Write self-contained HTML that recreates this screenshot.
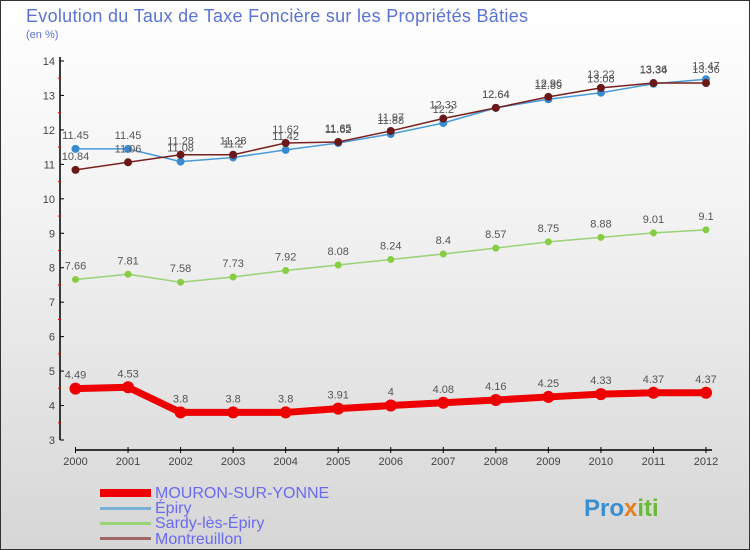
<!DOCTYPE html>
<html><head><meta charset="utf-8"><style>
html,body{margin:0;padding:0}
body{width:750px;height:550px;overflow:hidden;font-family:"Liberation Sans",sans-serif}
#wrap{position:absolute;left:0;top:0;width:748px;height:548px;border:1px solid #333;background:linear-gradient(#ffffff,#f2f2f2 40%,#d6d6d6)}
</style></head><body>
<div id="wrap">
<svg id="chart" width="750" height="550" viewBox="0 0 750 550" style="position:absolute;left:-1px;top:-1px">
<text x="26" y="22" font-size="18" fill="#5a73d6" textLength="502">Evolution du Taux de Taxe Foncière sur les Propriétés Bâties</text>
<text x="26" y="38" font-size="11" fill="#5a73d6">(en %)</text>
<g id="axes"></g><g id="series"></g>
<g>
<rect x="100" y="489" width="51" height="8" fill="#e00"/>
<text x="155" y="498" font-size="16" fill="#6a6aee">MOURON-SUR-YONNE</text>
<rect x="100" y="507" width="51" height="3" fill="#7ab0d8"/>
<text x="155" y="513" font-size="16" fill="#6a6aee">Épiry</text>
<rect x="100" y="522" width="51" height="3" fill="#99d277"/>
<text x="155" y="528" font-size="16" fill="#6a6aee">Sardy-lès-Épiry</text>
<rect x="100" y="537" width="51" height="3" fill="#a06868"/>
<text x="155" y="544" font-size="16" fill="#6a6aee">Montreuillon</text>
</g>
<text x="584" y="516" font-size="24" font-weight="bold"><tspan fill="#3a8fd0">Pro</tspan><tspan fill="#e08020">x</tspan><tspan fill="#6aba3a">iti</tspan></text>
</svg>
</div>
<script>
const years=["2000","2001","2002","2003","2004","2005","2006","2007","2008","2009","2010","2011","2012"];
const yTicks=[3,4,5,6,7,8,9,10,11,12,13,14];
const mouron=[4.49,4.53,3.8,3.8,3.8,3.91,4,4.08,4.16,4.25,4.33,4.37,4.37];
const epiry=[11.45,11.45,11.08,11.2,11.42,11.62,11.88,12.2,12.64,12.89,13.08,13.34,13.47];
const sardy=[7.66,7.81,7.58,7.73,7.92,8.08,8.24,8.4,8.57,8.75,8.88,9.01,9.1];
const montreuillon=[10.84,11.06,11.28,11.28,11.62,11.65,11.97,12.33,12.64,12.96,13.22,13.36,13.36];
const NS="http://www.w3.org/2000/svg";
function X(i){return 75.5+i*(706-75.5)/(years.length-1);}
function Y(v){return 440-(v-3)*(440-61)/11;}
function mk(p,tag,a){const e=document.createElementNS(NS,tag);for(const k in a)e.setAttribute(k,a[k]);p.appendChild(e);return e;}
const ax=document.getElementById('axes');
let l=mk(ax,'line',{x1:60,y1:57,x2:60,y2:440,stroke:'#000','stroke-width':1.5});


l=mk(ax,'line',{x1:75,y1:450,x2:712,y2:450,stroke:'#000','stroke-width':1.5});


yTicks.forEach(v=>{
  mk(ax,'line',{x1:60,y1:Y(v),x2:64,y2:Y(v),stroke:'#000'});
  if(v<14) mk(ax,'line',{x1:58,y1:Y(v+0.5),x2:61,y2:Y(v+0.5),stroke:'#e00'});
  const t=mk(ax,'text',{x:55,y:Y(v)+4,'font-size':11,fill:'#444','text-anchor':'end'});t.textContent=v;
  
  
});
years.forEach((y,i)=>{
  mk(ax,'line',{x1:X(i),y1:447,x2:X(i),y2:453,stroke:'#000'});
  const t=mk(ax,'text',{x:X(i),y:465,'font-size':11,fill:'#444','text-anchor':'middle'});t.textContent=y;
  
  
});
const sg=document.getElementById('series');
function draw(vals,name,color,w,r,dot,labelDy){
  const g=mk(sg,'g',{});
  
  
  mk(g,'polyline',{points:vals.map((v,i)=>X(i)+','+Y(v)).join(' '),fill:'none',stroke:color,'stroke-width':w,'stroke-linejoin':'round'});
  vals.forEach((v,i)=>{
    const c=mk(g,'circle',{cx:X(i),cy:Y(v),r:r,fill:dot});
    
    
    const t=mk(g,'text',{x:X(i),y:Y(v)+labelDy,'font-size':11,fill:'#555','text-anchor':'middle'});t.textContent=v;
    
    
  });
}
draw(sardy,'sardy','#99d277',1.5,3.5,'#88cc44',-10);
draw(epiry,'epiry','#4a9ad8',1.5,4,'#3a8ad0',-10);
draw(montreuillon,'montreuillon','#7a2020',1.5,4,'#6a1818',-10);
draw(mouron,'mouron','#ee0000',7,6,'#ee0000',-10);
</script>
</body></html>
